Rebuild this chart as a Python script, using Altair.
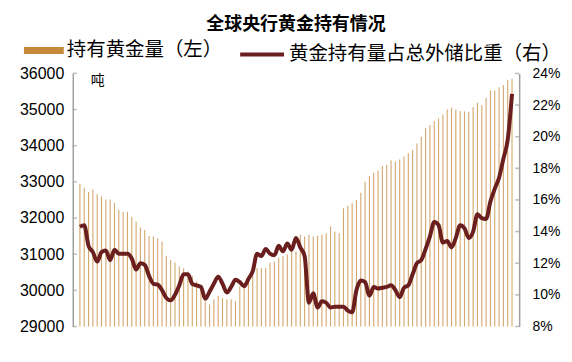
import altair as alt
import pandas as pd

# quarterly index 0 = 2000Q1 ... 100 = 2025Q1
quarters = list(range(101))

gold_tonnes = [
    32950, 32840, 32720, 32790, 32660, 32600, 32510, 32510, 32420, 32220,
    32170, 32170, 32030, 31900, 31740, 31670, 31500, 31490, 31440, 31350,
    30950, 30840, 30770, 30660, 30610, 30520, 30400, 30250, 30000, 29700,
    29610, 29750, 29840, 29790, 29750, 29750, 29700, 30110, 30110, 30250,
    30390, 30620, 30620, 30620, 30760, 30800, 30900, 30940, 30990, 31080,
    31080, 31540, 31490, 31540, 31490, 31510, 31540, 31580, 31770, 31630,
    31580, 32270, 32340, 32410, 32500, 32700, 33000, 33160, 33250, 33310,
    33440, 33470, 33600, 33560, 33620, 33700, 33790, 33880, 34060, 34250,
    34480, 34570, 34680, 34750, 34860, 35000, 35050, 35000, 34960, 34950,
    34940, 35070, 35190, 35120, 35320, 35530, 35530, 35620, 35670, 35810,
    35850,
]

share_pct = [
    14.3, 14.4, 13.1, 12.7, 12.1, 12.7, 12.8, 12.2, 12.85, 12.6,
    12.6, 12.6, 12.3, 11.6, 12.0, 11.9, 11.2, 10.7, 10.65, 10.3,
    9.8, 9.65, 10.0, 10.6, 11.3, 11.3, 10.7, 10.6, 10.5, 9.75,
    10.2, 10.7, 11.15, 10.7, 10.15, 10.5, 10.95, 10.8, 10.55, 11.0,
    11.5, 12.6, 12.45, 12.9, 12.6, 12.5, 13.1, 12.75, 13.25, 12.85,
    13.6, 13.0, 12.45, 9.5, 10.1, 9.2, 9.6, 9.5, 9.2, 9.25,
    9.25, 9.25, 9.0, 8.9, 10.3, 10.9, 10.8, 9.95, 10.5, 10.4,
    10.45, 10.5, 10.6, 10.3, 9.85, 10.45, 10.6, 11.3, 12.0, 12.2,
    12.9, 13.7, 14.6, 14.4, 13.3, 13.4, 13.0, 13.6, 14.4, 14.2,
    13.6, 14.0, 15.1, 14.85, 14.8, 15.9, 16.7, 17.4, 18.6, 19.8,
    22.7,
]

x_tick_idx = [0, 12, 24, 36, 48, 60, 72, 84, 96]
left_ticks = [29000, 30000, 31000, 32000, 33000, 34000, 35000, 36000]
right_ticks = [8, 10, 12, 14, 16, 18, 20, 22, 24]

bar_name = "持有黄金量（左）"
line_name = "黄金持有量占总外储比重（右）"

BAR_COLOR = "#C48A3A"
LINE_COLOR = "#6B1E1E"
AXIS_COLOR = "#A0A0A0"
NUM_FONT = "Liberation Sans"
CJK_FONT = "Noto Sans CJK SC"

df = pd.DataFrame({"q": quarters, "gold": gold_tonnes, "share": share_pct,
                   "s1": bar_name, "s2": line_name})
lt = pd.DataFrame({"v": left_ticks})
rt = pd.DataFrame({"v": right_ticks})

xscale = alt.Scale(domain=[-0.5, 100.5], nice=False, zero=False)
lscale = alt.Scale(domain=[29000, 36000], nice=False, zero=False)
rscale = alt.Scale(domain=[8, 24], nice=False, zero=False)

xaxis = alt.Axis(values=x_tick_idx, labelExpr="'' + (2000 + datum.value / 4)",
                 ticks=False, grid=False, title=None, domainColor=AXIS_COLOR,
                 domainWidth=1.5, labelFont=NUM_FONT, labelFontSize=15,
                 labelColor="#000000", labelPadding=5)

bars = alt.Chart(df).mark_bar(size=1.1, opacity=0.75).encode(
    x=alt.X("q:Q", scale=xscale, axis=xaxis),
    y=alt.Y("gold:Q", scale=lscale,
            axis=alt.Axis(orient="left", values=left_ticks, title=None, grid=False,
                          ticks=False, format="d", domainColor=AXIS_COLOR,
                          domainWidth=1.5, labelFont=NUM_FONT, labelFontSize=16,
                          labelColor="#000000", labelPadding=9)),
    y2=alt.datum(29000),
    color=alt.Color("s1:N", scale=alt.Scale(domain=[bar_name], range=[BAR_COLOR]),
                    legend=alt.Legend(orient="none", legendX=-49, legendY=-43,
                                      title=None, symbolType="M-1,-0.18H1V0.18H-1Z",
                                      symbolSize=1600, symbolStrokeWidth=0,
                                      symbolOpacity=1, labelLimit=0,
                                      labelFont=CJK_FONT, labelFontSize=19.5,
                                      labelColor="#000000", labelOffset=3)),
)

lticks = alt.Chart(lt).mark_tick(orient="horizontal", size=4, thickness=1.5,
                                 color=AXIS_COLOR).encode(
    y=alt.Y("v:Q", scale=lscale, axis=None),
    x=alt.value(2),
)

line = alt.Chart(df).mark_line(strokeWidth=4, interpolate="monotone").encode(
    x=alt.X("q:Q", scale=xscale, axis=None),
    y=alt.Y("share:Q", scale=rscale,
            axis=alt.Axis(orient="right", values=right_ticks, title=None, grid=False,
                          ticks=False, labelExpr="datum.value + '%'",
                          domainColor=AXIS_COLOR, domainWidth=1.5,
                          labelFont=NUM_FONT, labelFontSize=14, labelColor="#000000",
                          labelPadding=13)),
    stroke=alt.Stroke("s2:N", scale=alt.Scale(domain=[line_name], range=[LINE_COLOR]),
                      legend=alt.Legend(orient="none", legendX=166, legendY=-43,
                                        title=None, symbolType="stroke",
                                        symbolSize=1936, symbolStrokeWidth=4,
                                        labelLimit=0,
                                        labelFont=CJK_FONT, labelFontSize=19.5,
                                        labelColor="#000000", labelOffset=3)),
)

rticks = alt.Chart(rt).mark_tick(orient="horizontal", size=4, thickness=1.5,
                                 color=AXIS_COLOR).encode(
    y=alt.Y("v:Q", scale=rscale, axis=None),
    x=alt.value(446),
)

unit = alt.Chart(pd.DataFrame({"t": ["吨"]})).mark_text(
    font=CJK_FONT, fontSize=14, color="#000000", align="center", baseline="middle"
).encode(text="t:N", x=alt.value(25), y=alt.value(8))

chart = alt.layer(bars, lticks, unit, line, rticks).resolve_scale(
    y="independent"
).properties(
    width=448, height=254,
    title=alt.TitleParams("全球央行黄金持有情况", font=CJK_FONT, fontSize=18,
                          fontWeight="bold", color="#000000", anchor="middle",
                          frame="group", dx=0, offset=-3),
    autosize=alt.AutoSizeParams(type="none"),
    padding={"left": 65, "top": 65, "right": 45, "bottom": 30},
).configure_view(stroke=None).configure_legend(padding=0)

chart.save("out.html", embed_options={"renderer": "svg", "actions": False})
